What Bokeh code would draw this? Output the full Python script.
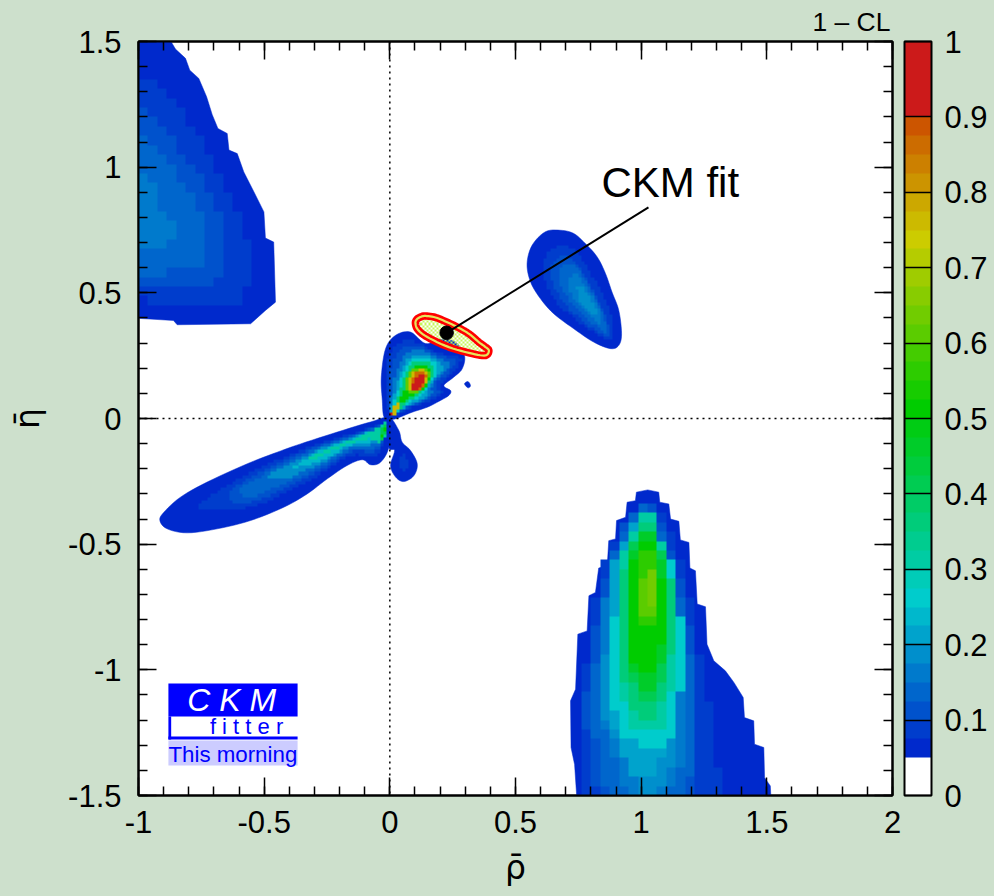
import numpy as np
from bokeh.core.properties import value
from bokeh.embed import file_html
from bokeh.models import ColorBar, FixedTicker, LinearAxis, LinearColorMapper, Span, Title
from bokeh.plotting import figure
from bokeh.resources import INLINE

BG = "#cde0cc"
FONT = "Liberation Sans"

palette = ["#ffffff", "#ffffff", "#0029cc", "#003dcc", "#0052cc", "#0066cc", "#007acc", "#008fcc",
           "#00a3cc", "#00b8cc", "#00cccc", "#00ccb8", "#00cca3", "#00cc8f", "#00cc7a", "#00cc66",
           "#00cc52", "#00cc3d", "#00cc29", "#00cc14", "#00cc00", "#17cc00", "#2dcc00", "#44cc00",
           "#5bcc00", "#71cc00", "#88cc00", "#9fcc00", "#b5cc00", "#cccc00", "#ccba00", "#cca800",
           "#cc9400", "#cc8000", "#cc6c00", "#cc5500", "#cc1a1a", "#cc1a1a", "#cc1a1a", "#cc1a1a"]

x_major = [-1, -0.5, 0, 0.5, 1, 1.5, 2]
x_minor = [round(-1 + 0.1 * i, 1) for i in range(31)]
y_major = [-1.5, -1, -0.5, 0, 0.5, 1, 1.5]
y_minor = [round(-1.5 + 0.1 * i, 1) for i in range(31)]
z_major = [0, 0.1, 0.2, 0.3, 0.4, 0.5, 0.6, 0.7, 0.8, 0.9, 1]

# (rho, eta) contours
ul_outline = [(-1.01, 1.51), (-.873, 1.51), (-.853, 1.476), (-.813, 1.439), (-.796, 1.392), (-.76, 1.359),
              (-.729, 1.286), (-.707, 1.216), (-.684, 1.16), (-.647, 1.14), (-.64, 1.074), (-.607, 1.06),
              (-.581, .987), (-.541, .908), (-.501, .828), (-.495, .724), (-.462, .708), (-.455, .469),
              (-.495, .436), (-.554, .383), (-.846, .379), (-.861, .396), (-1.01, .405)]
ul_075 = [(-1.01, 1.393), (-.919, 1.333), (-.849, 1.246), (-.809, 1.207), (-.769, 1.134), (-.74, 1.094),
          (-.7, 1.014), (-.661, .948), (-.621, .868), (-.59, .795), (-.552, .682), (-.552, .536), (-.59, .496),
          (-.621, .454), (-.853, .454), (-.959, .47), (-1.01, .496)]
ul_100 = [(-1.01, 1.246), (-.919, 1.207), (-.893, 1.16), (-.849, 1.094), (-.809, 1.014), (-.769, .987),
          (-.74, .948), (-.7, .868), (-.661, .795), (-.661, .563), (-.703, .536), (-1.01, .536)]
ul_125 = [(-1.01, 1.134), (-.919, 1.08), (-.893, 1.021), (-.849, .987), (-.809, .908), (-.769, .868),
          (-.74, .755), (-.74, .642), (-.769, .609), (-.893, .602), (-.893, .563), (-.959, .563), (-1.01, .602)]
ul_150 = [(-1.01, .987), (-.952, .948), (-.919, .868), (-.893, .795), (-.849, .795), (-.849, .722),
          (-.893, .709), (-.893, .682), (-1.01, .682)]

low_outline = [(.745, -1.52), (.735, -1.37), (.721, -1.303), (.719, -1.117), (.739, -1.071), (.748, -.852),
               (.785, -.839), (.792, -.699), (.818, -.686), (.831, -.589), (.865, -.58), (.871, -.48),
               (.898, -.473), (.902, -.4), (.938, -.387), (.944, -.327), (.977, -.321), (.981, -.287),
               (1.026, -.278), (1.07, -.287), (1.074, -.327), (1.11, -.334), (1.117, -.394), (1.15, -.403),
               (1.156, -.477), (1.19, -.487), (1.194, -.589), (1.216, -.6), (1.223, -.732), (1.256, -.743),
               (1.262, -.892), (1.289, -.958), (1.335, -.998), (1.369, -1.044), (1.406, -1.104), (1.411, -1.184),
               (1.448, -1.197), (1.451, -1.29), (1.488, -1.303), (1.491, -1.423), (1.514, -1.456), (1.517, -1.52)]
low_075 = [(.765, -1.52), (.772, -1.37), (.772, -1.104), (.785, -.905), (.818, -.706), (.849, -.573), (.907, -.44),
           (.951, -.38), (.997, -.314), (1.057, -.314), (1.117, -.44), (1.156, -.573), (1.196, -.706), (1.229, -.905),
           (1.249, -1.091), (1.286, -1.157), (1.289, -1.383), (1.329, -1.396), (1.329, -1.52)]
low_100 = [(.838, -1.52), (.798, -1.37), (.772, -1.171), (.805, -.905), (.838, -.706), (.865, -.573), (.918, -.44),
           (.957, -.38), (.991, -.347), (1.057, -.347), (1.057, -.38), (1.097, -.44), (1.136, -.573), (1.176, -.706),
           (1.209, -.905), (1.209, -1.52)]
low_125 = [(.878, -1.52), (.838, -1.37), (.798, -1.171), (.825, -.905), (.858, -.706), (.878, -.573), (.931, -.44),
           (.957, -.374), (.991, -.341), (1.057, -.367), (1.077, -.44), (1.123, -.573), (1.156, -.706), (1.193, -.905),
           (1.209, -1.171), (1.209, -1.37), (1.136, -1.52)]
low_150 = [(.951, -1.52), (.904, -1.37), (.838, -1.171), (.838, -.905), (.858, -.706), (.885, -.573), (.951, -.44),
           (.991, -.374), (1.057, -.374), (1.057, -.44), (1.097, -.573), (1.136, -.706), (1.176, -.905), (1.176, -1.37),
           (1.057, -1.52)]
low_175 = [(.991, -1.52), (.951, -1.37), (.838, -1.171), (.858, -.905), (.878, -.706), (.885, -.573), (.951, -.44),
           (.991, -.361), (1.057, -.361), (1.057, -.44), (1.097, -.573), (1.136, -.706), (1.156, -.905), (1.156, -1.171),
           (1.136, -1.37), (1.03, -1.52)]
low_200 = [(.951, -1.41), (.878, -1.171), (.878, -.706), (.885, -.573), (.951, -.44), (.991, -.387), (1.057, -.387),
           (1.057, -.44), (1.097, -.573), (1.136, -.706), (1.136, -1.171), (1.057, -1.41)]
low_250 = [(.904, -1.237), (.878, -1.038), (.878, -.905), (.904, -.706), (.904, -.573), (.951, -.467), (.991, -.38),
           (1.057, -.38), (1.057, -.467), (1.097, -.533), (1.136, -.586), (1.136, -.706), (1.176, -.839), (1.176, -.985),
           (1.136, -1.171), (1.136, -1.224), (1.097, -1.29), (.991, -1.29)]
low_300 = [(.951, -1.237), (.931, -1.104), (.904, -.985), (.904, -.573), (.951, -.48), (.991, -.38), (1.057, -.38),
           (1.057, -.44), (1.097, -.507), (1.097, -.613), (1.136, -.693), (1.136, -1.038), (1.097, -1.171), (1.097, -1.237)]
low_350 = [(.991, -1.21), (.951, -1.104), (.904, -.932), (.904, -.693), (.951, -.533), (.991, -.414), (1.057, -.414),
           (1.057, -.48), (1.097, -.56), (1.136, -.706), (1.136, -.878), (1.097, -1.038), (1.057, -1.21)]
low_400 = [(.991, -1.104), (.951, -1.011), (.951, -.533), (.991, -.434), (1.057, -.434), (1.057, -.52), (1.097, -.546),
           (1.097, -.985), (1.057, -1.104)]
low_450 = [(.991, -1.064), (.951, -.985), (.951, -.586), (.991, -.447), (1.057, -.447), (1.057, -.52), (1.097, -.56),
           (1.097, -.905), (1.057, -1.064)]
low_500 = [(.991, -.998), (.951, -.932), (.951, -.639), (.991, -.493), (1.057, -.493), (1.057, -.573), (1.097, -.639),
           (1.097, -.839), (1.057, -.998)]
low_550 = [(.991, -.812), (.991, -.513), (1.057, -.513), (1.057, -.812)]
low_600 = [(.991, -.772), (.991, -.633), (1.03, -.593), (1.057, -.593), (1.057, -.772)]
low_625 = [(1.03, -.746), (1.03, -.6), (1.057, -.6), (1.057, -.746)]

mid_outline = [(.619, .749), (.679, .755), (.732, .742), (.778, .702), (.825, .649), (.858, .583), (.884, .509),
               (.911, .436), (.922, .343), (.911, .297), (.878, .284), (.811, .31), (.732, .363), (.652, .423),
               (.599, .483), (.56, .549), (.546, .622), (.566, .695)]
mid_075 = [(.626, .662), (.692, .695), (.752, .656), (.805, .576), (.858, .476), (.891, .383), (.884, .317), (.831, .337),
           (.732, .403), (.652, .483), (.613, .576)]
mid_100 = [(.646, .622), (.699, .656), (.752, .609), (.798, .536), (.845, .443), (.875, .363), (.871, .33), (.818, .357),
           (.732, .423), (.672, .496), (.639, .569)]
mid_125 = [(.679, .609), (.719, .622), (.765, .576), (.812, .496), (.851, .417), (.858, .35), (.818, .377), (.745, .443),
           (.692, .509), (.672, .563)]
mid_150 = [(.712, .563), (.745, .576), (.785, .523), (.827, .45), (.841, .383), (.805, .403), (.752, .463), (.716, .509)]
mid_175 = [(.743, .523), (.765, .529), (.805, .476), (.827, .417), (.798, .423), (.758, .47)]

cen_outline = [(-.024, .014), (-.03, .078), (-.034, .171), (-.017, .284), (.023, .337), (.082, .35), (.142, .304),
               (.202, .321), (.261, .31), (.297, .257), (.288, .204), (.255, .171), (.215, .137), (.242, .117),
               (.235, .098), (.202, .078), (.149, .051), (.089, .031), (.023, .005), (0, .005)]
cen_dot = [(.297, .144), (.311, .153), (.321, .137), (.311, .128)]
cen_075 = [(0, .014), (-.017, .118), (-.01, .224), (.023, .297), (.089, .317), (.202, .264), (.281, .244), (.255, .191),
           (.202, .144), (.208, .104), (.149, .071), (.089, .049), (.023, .018)]
cen_100 = [(.003, .022), (-.004, .118), (.01, .217), (.049, .284), (.116, .297), (.202, .257), (.261, .237), (.235, .191),
           (.189, .144), (.195, .104), (.129, .071), (.076, .049)]
cen_150 = [(.006, .025), (.01, .118), (.029, .204), (.069, .264), (.129, .277), (.202, .244), (.235, .217), (.208, .177),
           (.169, .137), (.169, .104), (.116, .071), (.056, .049)]
cen_200 = [(.007, .027), (.023, .118), (.043, .197), (.082, .25), (.142, .257), (.195, .23), (.208, .204), (.182, .164),
           (.155, .131), (.149, .098), (.089, .064)]
cen_250 = [(.01, .027), (.032, .118), (.056, .197), (.096, .244), (.149, .244), (.189, .217), (.189, .184), (.155, .137),
           (.136, .104), (.076, .064)]
cen_350 = [(.011, .03), (.04, .118), (.067, .191), (.102, .23), (.151, .23), (.175, .197), (.162, .157), (.129, .111),
           (.063, .064)]
cen_500 = [(.014, .035), (.049, .104), (.076, .184), (.109, .221), (.151, .217), (.165, .184), (.149, .144), (.116, .111),
           (.049, .067)]
cen_600 = [(.063, .131), (.082, .191), (.116, .211), (.151, .204), (.159, .173), (.136, .131), (.096, .104)]
cen_750 = [(.076, .137), (.093, .191), (.122, .201), (.146, .195), (.151, .168), (.129, .128), (.089, .115)]
cen_850 = [(.082, .137), (.102, .184), (.129, .193), (.142, .184), (.143, .16), (.12, .123), (.09, .12)]
cen_950 = [(.093, .141), (.109, .177), (.133, .184), (.136, .157), (.112, .123), (.093, .12)]
spur_750 = [(.01, .031), (.029, .071), (.04, .064), (.02, .025)]
spur_950 = [(.006, .025), (.016, .038), (.016, .027), (.01, .022)]

lobe_outline = [(0, .005), (-.077, -.008), (-.209, -.048), (-.355, -.095), (-.448, -.128), (-.567, -.174), (-.727, -.247),
                (-.833, -.307), (-.899, -.367), (-.915, -.4), (-.886, -.433), (-.806, -.449), (-.687, -.433), (-.554, -.4),
                (-.422, -.347), (-.329, -.294), (-.249, -.234), (-.17, -.181), (-.11, -.158), (-.077, -.178), (-.037, -.168),
                (-.004, -.108)]
drop_outline = [(0, .005), (.036, -.042), (.049, -.088), (.082, -.121), (.109, -.174), (.096, -.221), (.056, -.245),
                (.023, -.227), (.003, -.181), (.019, -.121), (-.004, -.108)]
drop_075 = [(.056, -.134), (.076, -.181), (.056, -.204), (.036, -.174)]
lobe_075 = [(-.011, -.015), (-.077, -.031), (-.156, -.055), (-.289, -.095), (-.422, -.148), (-.554, -.208), (-.74, -.32),
            (-.74, -.354), (-.554, -.347), (-.422, -.294), (-.289, -.225), (-.156, -.141), (-.077, -.148), (-.037, -.121)]
lobe_100 = [(-.011, -.022), (-.077, -.035), (-.156, -.061), (-.289, -.104), (-.422, -.161), (-.554, -.227), (-.634, -.281),
            (-.634, -.32), (-.554, -.327), (-.422, -.274), (-.289, -.208), (-.156, -.128), (-.077, -.128), (-.037, -.108)]
lobe_125 = [(-.011, -.025), (-.077, -.038), (-.156, -.065), (-.289, -.112), (-.422, -.174), (-.554, -.247), (-.6, -.28),
            (-.554, -.307), (-.422, -.254), (-.289, -.194), (-.156, -.121), (-.077, -.115), (-.037, -.095)]
lobe_175 = [(-.011, -.03), (-.077, -.042), (-.156, -.071), (-.289, -.121), (-.422, -.188), (-.488, -.227), (-.422, -.234),
            (-.289, -.181), (-.156, -.111), (-.077, -.101), (-.037, -.085)]
lobe_225 = [(-.015, -.035), (-.077, -.044), (-.156, -.077), (-.289, -.128), (-.382, -.188), (-.289, -.168), (-.156, -.101),
            (-.077, -.088), (-.037, -.08)]
lobe_300 = [(-.011, -.012), (-.037, -.022), (-.077, -.046), (-.156, -.081), (-.289, -.134), (-.329, -.148), (-.289, -.15),
            (-.156, -.092), (-.077, -.075), (-.037, -.092), (-.013, -.048)]
lobe_400 = [(-.013, -.018), (-.03, -.035), (-.044, -.068), (-.03, -.081), (-.017, -.048)]
lobe_500 = [(-.017, -.026), (-.03, -.048), (-.037, -.068), (-.026, -.071), (-.017, -.042)]

fit_contour = [(.102, .383), (.106, .399), (.122, .41), (.142, .414), (.182, .408), (.226, .39), (.268, .37), (.315, .343),
               (.354, .31), (.377, .293), (.394, .277), (.381, .257), (.328, .264), (.235, .29), (.149, .33), (.112, .359)]
fit_point_rho = [0.226]
fit_point_eta = [0.341]
pointer_rho = [0.226, 1.029]
pointer_eta = [0.341, 0.840]

coarse_levels = [(.075, ul_075), (.1, ul_100), (.125, ul_125), (.15, ul_150),
                 (.075, low_075), (.1, low_100), (.125, low_125), (.15, low_150), (.175, low_175), (.2, low_200),
                 (.25, low_250), (.3, low_300), (.35, low_350), (.4, low_400), (.45, low_450), (.5, low_500),
                 (.55, low_550), (.6, low_600), (.625, low_625)]
fine_levels = [(.075, mid_075), (.1, mid_100), (.125, mid_125), (.15, mid_150), (.175, mid_175),
               (.075, cen_075), (.1, cen_100), (.15, cen_150), (.2, cen_200), (.25, cen_250), (.35, cen_350),
               (.5, cen_500), (.6, cen_600), (.75, cen_750), (.85, cen_850), (.95, cen_950),
               (.75, spur_750), (.95, spur_950), (.075, drop_075),
               (.075, lobe_075), (.1, lobe_100), (.125, lobe_125), (.175, lobe_175), (.225, lobe_225),
               (.3, lobe_300), (.4, lobe_400), (.5, lobe_500)]
smooth_outlines = [mid_outline, cen_outline, cen_dot, lobe_outline, drop_outline]
stepped_outlines = [ul_outline, low_outline]

READ_SHIFT = -0.006  # the contours were read against a scale 1.5 px too high


def shifted(poly):
    return [(r, e + READ_SHIFT) for r, e in poly]


def rounded(poly, sub=6):
    """Draw a read contour as a closed round curve through its read points."""
    a = np.array(poly, dtype=float)
    n = len(a)
    out = []
    for i in range(n):
        p0, p1, p2, p3 = a[i - 1], a[i], a[(i + 1) % n], a[(i + 2) % n]
        for t in np.linspace(0, 1, sub, endpoint=False):
            out.append(0.5 * (2 * p1 + (p2 - p0) * t + (2 * p0 - 5 * p1 + 4 * p2 - p3) * t * t
                              + (3 * p1 - p0 - 3 * p2 + p3) * t ** 3))
    return [tuple(c) for c in out]


def inside(poly, X, Y):
    px, py = np.array(poly).T
    res = np.zeros(X.shape, bool)
    j = len(px) - 1
    for i in range(len(px)):
        res ^= ((py[i] > Y) != (py[j] > Y)) & (X < (px[j] - px[i]) * (Y - py[i]) / (py[j] - py[i] + 1e-12) + px[i])
        j = i
    return res


def raster(levels, cell, smooth):
    nx = int(round(3 / cell))
    xs = -1 + (np.arange(nx) + 0.5) * cell
    ys = -1.5 + (np.arange(nx) + 0.5) * cell
    X, Y = np.meshgrid(xs, ys)
    out = np.full(X.shape, np.nan)
    for level, poly in levels:
        poly = rounded(poly) if smooth else poly
        out[inside(shifted(poly), X, Y)] = level + 0.0125
    return out


mapper = LinearColorMapper(palette=palette, low=0, high=1, nan_color="#00000000")

p = figure(width=994, height=896, frame_width=754, frame_height=754, min_border_left=138, min_border_top=41,
           min_border_right=102, min_border_bottom=101, x_range=(-1, 2), y_range=(-1.5, 1.5),
           toolbar_location=None, output_backend="svg", background_fill_color="white", border_fill_color=BG,
           x_axis_label="\u03c1\u0304", y_axis_label="\u03b7\u0304")
p.grid.visible = False
p.outline_line_color = "black"
p.outline_line_width = 2

p.add_layout(LinearAxis(), "above")
p.add_layout(LinearAxis(), "right")
for ax, major, minor in ((p.below[0], x_major, x_minor), (p.above[0], x_major, x_minor),
                         (p.left[0], y_major, y_minor), (p.right[0], y_major, y_minor)):
    ax.ticker = FixedTicker(ticks=major, minor_ticks=minor)
    ax.major_tick_in = 18
    ax.major_tick_out = 0
    ax.minor_tick_in = 9
    ax.minor_tick_out = 0
    ax.major_tick_line_width = 1.5
    ax.minor_tick_line_width = 1.5
    ax.major_tick_line_color = "black"
    ax.minor_tick_line_color = "black"
    ax.axis_line_width = 2
    ax.axis_line_color = "black"
    ax.major_label_text_font = FONT
    ax.major_label_text_font_size = "31px"
    ax.major_label_text_color = "black"
    ax.major_label_overrides = {t: str(t) for t in major}
    ax.axis_label_text_font = "DejaVu Sans"
    ax.axis_label_text_font_size = "33px"
    ax.axis_label_text_font_style = "normal"
    ax.axis_label_text_color = "black"
for ax, major in ((p.above[0], x_major), (p.right[0], y_major)):
    ax.major_label_overrides = {t: "" for t in major}
    ax.major_label_standoff = 0
p.below[0].major_label_standoff = 15
p.left[0].major_label_standoff = 17
p.below[0].axis_label_standoff = 12
p.left[0].axis_label_standoff = 18

outline_curves = [shifted(rounded(o)) for o in smooth_outlines] + [shifted(o) for o in stepped_outlines]
p.patches([[c[0] for c in o] for o in outline_curves], [[c[1] for c in o] for o in outline_curves],
          fill_color=palette[2], line_color=palette[2], line_width=0.5)
p.image(image=[raster(coarse_levels, 0.0375, False)], x=-1, y=-1.5, dw=3, dh=3, color_mapper=mapper)
p.image(image=[raster(fine_levels, 0.0125, True)], x=-1, y=-1.5, dw=3, dh=3, color_mapper=mapper)

# checkered fill of the fit contour: every other small cell is left open
fit_curve = shifted(rounded(fit_contour))
cell = 0.008
n = int(round(3 / cell))
X, Y = np.meshgrid(-1 + (np.arange(n) + .5) * cell, -1.5 + (np.arange(n) + .5) * cell)
mask = inside(fit_curve, X, Y)
ii, jj = np.indices(mask.shape)
check = mask & ((ii + jj) % 2 == 0)
rgba = np.zeros(mask.shape, dtype=np.uint32)
view = rgba.view(dtype=np.uint8).reshape((n, n, 4))
view[check] = (0xc8, 0xf5, 0x5a, 255)
p.image_rgba(image=[rgba], x=-1, y=-1.5, dw=3, dh=3)

fx = [c[0] for c in fit_curve]
fy = [c[1] for c in fit_curve]
p.patch(fx + fx[:1], fy + fy[:1], fill_color=None, line_color="#ff0000", line_width=7.5, line_join="round")
p.patch(fx + fx[:1], fy + fy[:1], fill_color=None, line_color="#e6e65c", line_width=2.2, line_join="round")

p.add_layout(Span(location=0, dimension="height", line_color="black", line_width=1.5, line_dash="2 4"))
p.add_layout(Span(location=0, dimension="width", line_color="black", line_width=1.5, line_dash="2 4"))

p.line(pointer_rho, pointer_eta, line_color="black", line_width=2)
p.scatter(fit_point_rho, fit_point_eta, size=13.5, fill_color="black", line_color="black")
p.text([0.842], [0.939], ["CKM fit"], text_font=value(FONT), text_font_size="42px", text_color="black",
       text_align="left", text_baseline="middle")

# logo
p.quad(left=[-.881], right=[-.367], top=[-1.054], bottom=[-1.186], fill_color="#0000ff", line_color=None)
p.quad(left=[-.881, -.881], right=[-.870, -.367], top=[-1.186, -1.265], bottom=[-1.277, -1.277],
       fill_color="#0000ff", line_color=None)
p.quad(left=[-.881], right=[-.367], top=[-1.281], bottom=[-1.381], fill_color="#ccccff", line_color=None)
p.text([-.806], [-1.122], ["C K M"], text_font=value(FONT), text_font_style="italic", text_font_size="32px",
       text_color="white", text_align="left", text_baseline="middle")
p.text([-.716], [-1.225], ["f i t t e r"], text_font=value(FONT), text_font_size="22px", text_color="#0000ff",
       text_align="left", text_baseline="middle")
p.text([-.881], [-1.337], ["This morning"], text_font=value(FONT), text_font_size="22.3px", text_color="#0000ff",
       text_align="left", text_baseline="middle")

cb = ColorBar(color_mapper=mapper, ticker=FixedTicker(ticks=z_major),
              major_label_overrides={t: str(t) for t in z_major},
              location=(766, 0), width=27, height=754, padding=0, margin=0, label_standoff=13,
              major_label_text_font=FONT, major_label_text_font_size="31px", major_label_text_color="black",
              major_tick_in=27, major_tick_out=0, major_tick_line_color="black", major_tick_line_width=1.5,
              minor_tick_line_color=None, bar_line_color="black", bar_line_width=2,
              background_fill_color=None, border_line_color=None)
p.add_layout(cb)
p.add_layout(Title(text="1 \u2013 CL", align="right", text_font=FONT, text_font_size="26.5px", offset=2,
                   text_font_style="normal", text_color="black", standoff=9), "above")

html = file_html(p, INLINE)
style = "<style>html,body{background:%s;overflow:hidden}</style>" % BG
html = html.replace("<head>", "<head>" + style, 1)
open("out.html", "w").write(html)
